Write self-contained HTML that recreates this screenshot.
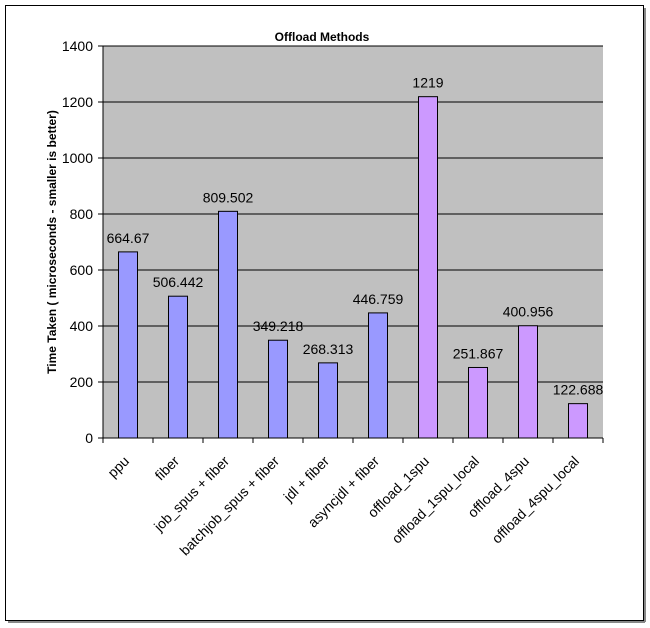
<!DOCTYPE html>
<html><head><meta charset="utf-8"><style>
html,body{margin:0;padding:0;background:#fff;}
svg{display:block;font-family:"Liberation Sans",Arial,sans-serif;}
</style></head><body>
<svg id="chart" width="650" height="628">
<rect x="5.5" y="5.5" width="638" height="615" fill="#fff" stroke="#000"/>
<line x1="8" y1="622" x2="645" y2="622" stroke="#888" stroke-width="2"/>
<line x1="645" y1="8" x2="645" y2="622" stroke="#888" stroke-width="2"/>
<text x="322" y="41" text-anchor="middle" font-size="12" font-weight="bold">Offload Methods</text>
<text transform="translate(56,242) rotate(-90)" text-anchor="middle" font-size="12" font-weight="bold">Time Taken ( microseconds - smaller is better)</text>
<g id="plot"></g>
</svg>
<script>
const categories=["ppu","fiber","job_spus + fiber","batchjob_spus  + fiber","jdl  + fiber","asyncjdl  + fiber","offload_1spu","offload_1spu_local","offload_4spu","offload_4spu_local"];
const values=[664.67,506.442,809.502,349.218,268.313,446.759,1219,251.867,400.956,122.688];
const valueLabels=["664.67","506.442","809.502","349.218","268.313","446.759","1219","251.867","400.956","122.688"];
const seriesGroup=["blue","blue","blue","blue","blue","blue","purple","purple","purple","purple"];
const yTicks=[0,200,400,600,800,1000,1200,1400];

const NS="http://www.w3.org/2000/svg";
const L=103,R=603,T=46,B=438,YMAX=1400;
const x=i=>L+(R-L)/categories.length*(i+0.5);
const y=v=>B-(v/YMAX)*(B-T);
const g=document.getElementById('plot');
function mk(t,a){const e=document.createElementNS(NS,t);for(const k in a)e.setAttribute(k,a[k]);g.appendChild(e);return e;}
let e=mk('rect',{x:L,y:T,width:R-L,height:B-T,fill:'#c0c0c0'});


yTicks.forEach(t=>{
  if(t>0){const gl=mk('line',{x1:L,x2:R,y1:y(t),y2:y(t),stroke:'#000','stroke-width':1});
  
  }
  mk('line',{x1:L-5,x2:L,y1:y(t),y2:y(t),stroke:'#000'});
  const tl=mk('text',{x:L-10,y:y(t)+5,'text-anchor':'end','font-size':14});
  tl.textContent=t;
  
  
});
const bw=19,cw=(R-L)/categories.length;
values.forEach((v,i)=>{
  const b=mk('rect',{x:x(i)-bw/2,y:y(v),width:bw,height:B-y(v),fill:seriesGroup[i]==='blue'?'#9999ff':'#cc99ff',stroke:'#000','stroke-width':1});
  
  
  const vl=mk('text',{x:x(i),y:y(v)-9,'text-anchor':'middle','font-size':14});
  vl.textContent=valueLabels[i];
  
  
  const cl=mk('text',{'text-anchor':'end','font-size':14,'xml:space':'preserve',transform:`translate(${x(i)+2},${B+24}) rotate(-45)`});
  cl.textContent=categories[i];
  
  
});
for(let i=0;i<=categories.length;i++){mk('line',{x1:L+cw*i,x2:L+cw*i,y1:B,y2:B+5,stroke:'#000'});}
mk('line',{x1:L,x2:L,y1:T,y2:B,stroke:'#000'});
mk('line',{x1:L,x2:R,y1:B,y2:B,stroke:'#000'});
</script>
</body></html>
